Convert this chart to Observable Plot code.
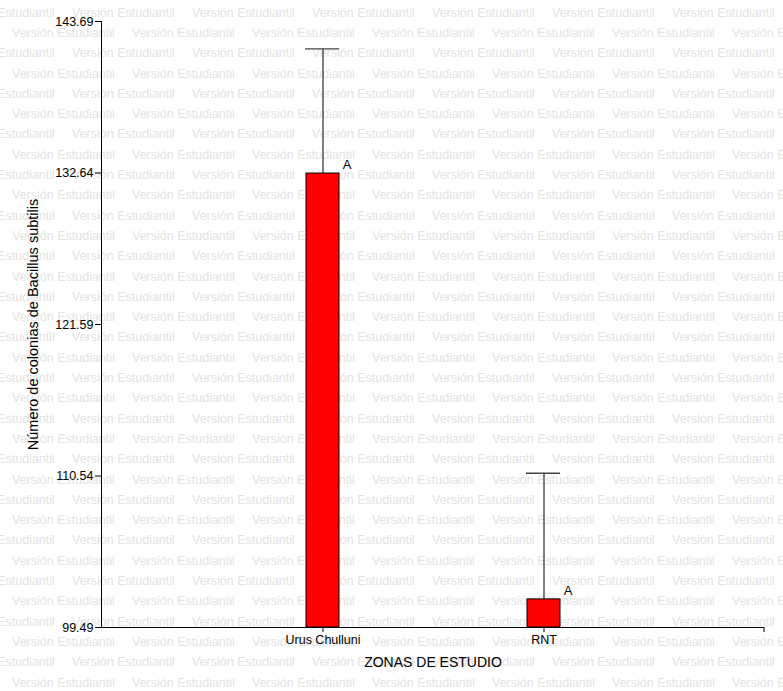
<!DOCTYPE html>
<html>
<head>
<meta charset="utf-8">
<script src="https://cdn.jsdelivr.net/npm/d3@7"></script>
<script src="https://cdn.jsdelivr.net/npm/@observablehq/plot@0.6"></script>
<style>
  html, body { margin: 0; padding: 0; background: #fff; }
  #chart svg { display: block; }
</style>
</head>
<body>
<div id="chart"></div>
<script>
// Medias por zona de estudio, límite superior de la barra de error y letra de agrupamiento
const zonas = ["Urus Chulluni", "RNT"];
const medias = [132.6, 101.54];
const limitesSup = [141.7, 110.74];
const letras = ["A", "A"];
const yTicks = [99.49, 110.54, 121.59, 132.64, 143.69];
const yTitulo = "Número de colonias de Bacillus subtilis";
const xTitulo = "ZONAS DE ESTUDIO";
const marcaAgua = "Versión Estudiantil";

const datos = zonas.map((zona, i) => ({zona, media: medias[i], sup: limitesSup[i], letra: letras[i]}));
const base = yTicks[0];

const W = 783, H = 691;
const fuente = "'Liberation Sans', Arial, Helvetica, sans-serif";

const plot = Plot.plot({
  width: W,
  height: H,
  marginLeft: 101,
  marginRight: 19,
  marginTop: 21,
  marginBottom: 64,
  style: {fontFamily: fuente, fontSize: "12.5px", background: "transparent", color: "#000"},
  x: {type: "band", domain: zonas, paddingInner: 0, paddingOuter: 0.5},
  y: {domain: [yTicks[0], yTicks[yTicks.length - 1]]},
  marks: [
    // barras de error (solo hacia arriba)
    Plot.ruleX(datos, {x: "zona", y1: "media", y2: "sup", stroke: "#000", strokeWidth: 1}),
    Plot.tickY(datos, {x: "zona", y: "sup", stroke: "#444", strokeWidth: 1.3, insetLeft: 93, insetRight: 94}),
    // barras de medias
    Plot.barY(datos, {x: "zona", y1: base, y2: "media", fill: "#ff0000", stroke: "#000", strokeWidth: 1, insetLeft: 94, insetRight: 94}),
    // letras de agrupamiento
    Plot.text(datos, {x: "zona", y: "media", text: "letra", dx: 24, dy: -9, fontSize: 13}),
    // ejes
    Plot.frame({anchor: "left", stroke: "#000"}),
    Plot.axisY({ticks: yTicks, tickFormat: d => d.toFixed(2), tickSize: 6, tickPadding: 2, label: null}),
    Plot.axisX({tickSize: 5, tickPadding: 3, label: null}),
    Plot.ruleY([base], {stroke: "#000", strokeWidth: 1}),
    // títulos de ejes
    Plot.text([yTitulo], {text: d => d, frameAnchor: "left", textAnchor: "middle", lineAnchor: "middle", dx: -68, rotate: -90, fontSize: 14.5}),
    Plot.text([xTitulo], {text: d => d, frameAnchor: "bottom", lineAnchor: "middle", dy: 35, fontSize: 14})
  ]
});

const svg = d3.select(plot);

// marca de cierre del eje X, en el extremo derecho de su rango
const sx = plot.scale("x"), sy = plot.scale("y");
const xFin = sx.range[1], yBase = sy.apply(base);
svg.append("line")
  .attr("x1", xFin).attr("x2", xFin)
  .attr("y1", yBase).attr("y2", yBase + 5)
  .attr("stroke", "#000");

// marca de agua de fondo, en filas alternadas
const fondo = svg.insert("g", ":first-child")
  .attr("fill", "#e3e3e3")
  .attr("text-anchor", "start")
  .attr("font-family", fuente)
  .attr("font-size", 12.5);
const paso = 120, alto = 20.3;
for (let k = 0; k * alto < H + 10; k++) {
  const y = 12.3 + k * alto;
  const x0 = (k % 2 === 0 ? 72 : 12) - paso;
  for (let x = x0; x < W; x += paso) {
    fondo.append("text")
      .attr("x", x)
      .attr("y", y)
      .attr("dy", "0.35em")
      .text(marcaAgua);
  }
}
svg.insert("rect", ":first-child").attr("width", W).attr("height", H).attr("fill", "#fff");

document.getElementById("chart").append(plot);
</script>
</body>
</html>
